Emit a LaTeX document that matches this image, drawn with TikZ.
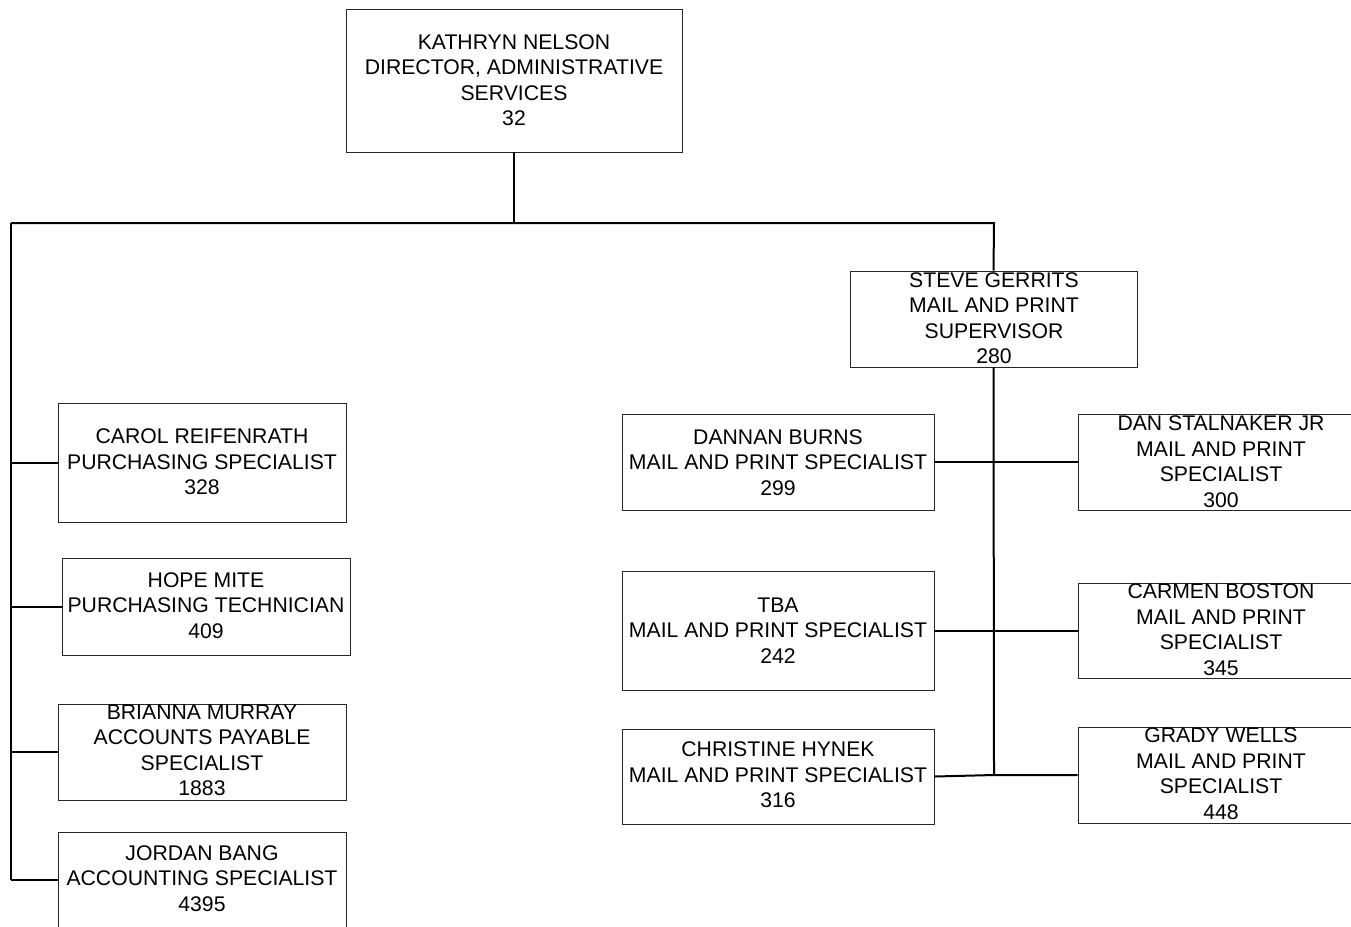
\documentclass[tikz,border=0pt]{standalone}
\usepackage{fontspec}
\setmainfont{Liberation Sans}
\usetikzlibrary{fit}
\begin{document}
\begin{tikzpicture}[x=0.75pt,y=-0.75pt,
  box/.style={draw=black!85, line width=0.6pt, inner sep=0pt},
  txt/.style={align=center, inner sep=0pt, font=\fontsize{15.9pt}{19.1pt}\selectfont},
  link/.style={draw=black, line width=1.5pt}]
\useasboundingbox (0,0) rectangle (1351,926);
\clip (0,0) rectangle (1351,926);
% boxes
\node[box, fit={(346,9)(682,152)}] (kn) {};
\node[box, fit={(850,271)(1137,367)}] (sg) {};
\node[box, fit={(58,403)(346,522)}] (cr) {};
\node[box, fit={(62,558)(350,655)}] (hm) {};
\node[box, fit={(58,704)(346,800)}] (bm) {};
\node[box, fit={(58,832)(346,928)}] (jb) {};
\node[box, fit={(622,414)(934,510)}] (db) {};
\node[box, fit={(1078,414)(1360,510)}] (ds) {};
\node[box, fit={(622,571)(934,690)}] (tba) {};
\node[box, fit={(1078,583)(1360,678)}] (cb) {};
\node[box, fit={(622,729)(934,824)}] (ch) {};
\node[box, fit={(1078,727)(1360,823)}] (gw) {};
% texts
\node[txt] (kn-t) at (514,80) {KATHRYN NELSON\\DIRECTOR, ADMINISTRATIVE\\SERVICES\\32};
\node[txt] (sg-t) at (994,318) {STEVE GERRITS\\MAIL AND PRINT\\SUPERVISOR\\280};
\node[txt] (cr-t) at (202,462) {CAROL REIFENRATH\\PURCHASING SPECIALIST\\328};
\node[txt] (hm-t) at (206,605.5) {HOPE MITE\\PURCHASING TECHNICIAN\\409};
\node[txt] (bm-t) at (202,750.5) {BRIANNA MURRAY\\ACCOUNTS PAYABLE\\SPECIALIST\\1883};
\node[txt] (jb-t) at (202,878.5) {JORDAN BANG\\ACCOUNTING SPECIALIST\\4395};
\node[txt] (db-t) at (778,462.5) {DANNAN BURNS\\MAIL AND PRINT SPECIALIST\\299};
\node[txt] (ds-t) at (1221,461.5) {DAN STALNAKER JR\\MAIL AND PRINT\\SPECIALIST\\300};
\node[txt] (tba-t) at (778,630.5) {TBA\\MAIL AND PRINT SPECIALIST\\242};
\node[txt] (cb-t) at (1221,629.5) {CARMEN BOSTON\\MAIL AND PRINT\\SPECIALIST\\345};
\node[txt] (ch-t) at (778,775) {CHRISTINE HYNEK\\MAIL AND PRINT SPECIALIST\\316};
\node[txt] (gw-t) at (1221,773.5) {GRADY WELLS\\MAIL AND PRINT\\SPECIALIST\\448};
% junctions
\coordinate (j0) at (514,223);
\coordinate (jL) at (11,223);
\coordinate (jR) at (994,223);
\coordinate (lEnd) at (11,880);
\coordinate (rEnd) at (994,775);
% connectors
\draw[link] (kn.south) -- (j0);
\draw[link] (jL) -- (jR) -- (sg.north);
\draw[link] (jL) -- (lEnd);
\draw[link] (cr.west -| jL) -- (cr.west);
\draw[link] (hm.west -| jL) -- (hm.west);
\draw[link] (bm.west -| jL) -- (bm.west);
\draw[link] (lEnd) -- (jb.west);
\draw[link] (sg.south) -- (rEnd);
\draw[link] (db.east) -- (ds.west);
\draw[link] (tba.east) -- (cb.west);
\draw[link] (ch.east) -- (rEnd) -- (gw.west);
\end{tikzpicture}
\end{document}
